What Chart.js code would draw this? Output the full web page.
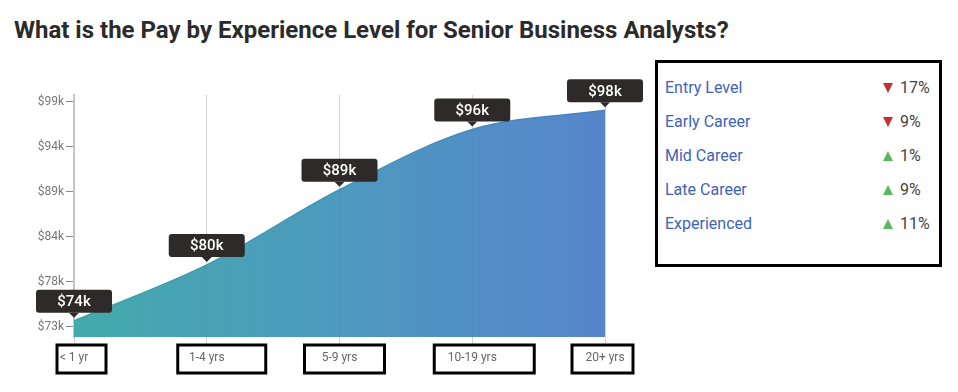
<!DOCTYPE html>
<html>
<head>
<meta charset="utf-8">
<script src="https://cdn.jsdelivr.net/npm/chart.js@4/dist/chart.umd.min.js"></script>
<style>
  html, body { margin:0; padding:0; background:#fff; }
  body { width:958px; height:392px; position:relative; overflow:hidden; font-family: Roboto, "Noto Sans", sans-serif; }
  #title { position:absolute; left:14px; top:16px; font-size:24px; line-height:28px; font-weight:700; color:#2b2b2b; white-space:nowrap; }
  #wrap { position:absolute; left:0; top:0; width:650px; height:392px; }
  #panel { position:absolute; left:655px; top:60px; width:287px; height:207px; box-sizing:border-box; border:3px solid #000; padding:8px 1px 0 7px; }
  .row { height:34px; line-height:34px; font-size:16px; display:flex; align-items:center; }
  .row .name { color:#3d63b8; flex:1; }
  .row .chg { color:#444; display:flex; align-items:center; width:55px; }
  .tri { display:inline-block; width:0; height:0; margin-right:7px; }
  .down { border-left:5.5px solid transparent; border-right:5.5px solid transparent; border-top:10px solid #c9302c; }
  .up { border-left:5.5px solid transparent; border-right:5.5px solid transparent; border-bottom:10px solid #5cb85c; }
</style>
</head>
<body>
<div id="title">What is the Pay by Experience Level for Senior Business Analysts?</div>
<div id="wrap"><canvas id="c" width="650" height="392"></canvas></div>
<div id="panel"></div>
<script>
// ---- data ----
const categories = ['< 1 yr', '1-4 yrs', '5-9 yrs', '10-19 yrs', '20+ yrs'];
const payValues = [74.0, 80.4, 89.0, 95.9, 98.1];          // $k
const yTickValues = [73.3, 78.45, 83.6, 88.75, 93.9, 99.05]; // $k
const yTickLabels = ['$73k', '$78k', '$84k', '$89k', '$94k', '$99k'];
const levelNames = ['Entry Level', 'Early Career', 'Mid Career', 'Late Career', 'Experienced'];
const levelChanges = [-17, -9, 1, 9, 11];

// ---- legend panel (HTML) ----
const panel = document.getElementById('panel');
levelNames.forEach((n, i) => {
  const v = levelChanges[i];
  const row = document.createElement('div');
  row.className = 'row';
  row.innerHTML = '<span class="name">' + n + '</span><span class="chg"><span class="tri ' + (v < 0 ? 'down' : 'up') + '"></span>' + Math.abs(v) + '%</span>';
  panel.appendChild(row);
});

// ---- plugins ----
const valueTags = {
  id: 'valueTags',
  afterDatasetsDraw(chart) {
    const ctx = chart.ctx;
    const meta = chart.getDatasetMeta(0);
    const data = chart.data.datasets[0].data;
    ctx.save();
    meta.data.forEach((pt, i) => {
      const w = 76, h = 23, r = 3, gap = 8, caret = 5;
      const x = pt.x, yb = pt.y - gap;
      ctx.fillStyle = '#2e2a2a';
      ctx.beginPath();
      ctx.roundRect(x - w / 2, yb - h, w, h, r);
      ctx.fill();
      ctx.beginPath();
      ctx.moveTo(x - caret, yb);
      ctx.lineTo(x + caret, yb);
      ctx.lineTo(x, yb + caret);
      ctx.closePath();
      ctx.fill();
      ctx.fillStyle = '#ffffff';
      ctx.font = '500 15px Roboto';
      ctx.textAlign = 'center';
      ctx.textBaseline = 'middle';
      ctx.fillText('$' + Math.round(data[i]) + 'k', x, yb - h / 2 + 1);
    });
    ctx.restore();
  }
};

const labelBoxes = {
  id: 'labelBoxes',
  afterDraw(chart, args, opts) {
    const ctx = chart.ctx;
    const xs = chart.scales.x;
    ctx.save();
    ctx.strokeStyle = '#000';
    ctx.lineWidth = 3;
    xs.ticks.forEach((t, i) => {
      const px = xs.getPixelForTick(i);
      const o = opts.offsets[i];
      ctx.strokeRect(px + o[0], opts.top, o[1] - o[0], opts.height);
    });
    ctx.restore();
  }
};

new Chart(document.getElementById('c'), {
  type: 'line',
  data: {
    labels: categories,
    datasets: [{
      data: payValues,
      fill: 'start',
      cubicInterpolationMode: 'monotone',
      pointRadius: 0,
      borderWidth: 1.5,
      borderColor: (c) => {
        const a = c.chart.chartArea;
        if (!a) return '#4a8ec0';
        const g = c.chart.ctx.createLinearGradient(a.left, 0, a.right, 0);
        g.addColorStop(0, '#38a3a4');
        g.addColorStop(1, '#4d7fc6');
        return g;
      },
      backgroundColor: (c) => {
        const a = c.chart.chartArea;
        if (!a) return 'rgba(70,150,180,0.9)';
        const g = c.chart.ctx.createLinearGradient(a.left, 0, a.right, 0);
        g.addColorStop(0, 'rgba(52,163,164,0.92)');
        g.addColorStop(0.5, 'rgba(62,145,186,0.92)');
        g.addColorStop(1, 'rgba(72,123,198,0.92)');
        return g;
      }
    }]
  },
  options: {
    responsive: false,
    animation: false,
    events: [],
    layout: { padding: { left: 0, right: 45, top: 95, bottom: 0 } },
    plugins: {
      legend: { display: false },
      tooltip: { enabled: false },
      title: { display: false },
      labelBoxes: {
        top: 345, height: 28,
        offsets: [[-17, 32], [-29, 59], [-35, 45], [-38, 62], [-33, 28]]
      }
    },
    scales: {
      x: {
        type: 'category',
        offset: false,
        grid: { display: true, drawOnChartArea: true, drawTicks: true, tickLength: 7, color: '#d2d2d2', lineWidth: 1 },
        border: { display: false },
        ticks: { color: '#666', font: { family: 'Roboto', size: 12 }, padding: 7, maxRotation: 0, autoSkip: false },
        afterFit(s) { s.height = 55; }
      },
      y: {
        min: 72.15,
        max: 99.85,
        afterBuildTicks(s) { s.ticks = yTickValues.map(v => ({ value: v })); },
        grid: { display: true, drawOnChartArea: false, drawTicks: true, tickLength: 8, color: '#888', lineWidth: 1 },
        border: { display: true, color: '#c4c4c4', width: 2 },
        ticks: {
          color: '#777', font: { family: 'Roboto', size: 12 }, padding: 2,
          callback: (v, i) => yTickLabels[i]
        },
        afterFit(s) { s.width = 74; }
      }
    }
  },
  plugins: [valueTags, labelBoxes]
});
</script>
</body>
</html>
